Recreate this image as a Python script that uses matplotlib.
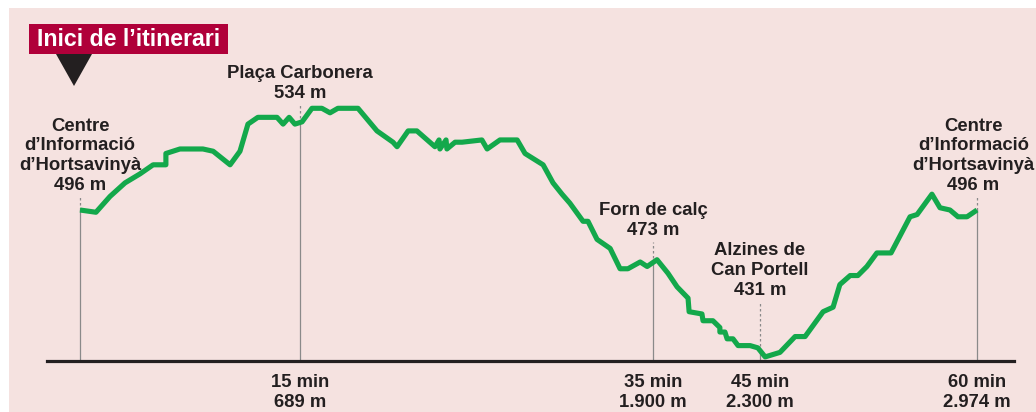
import numpy as np
import matplotlib
matplotlib.use("Agg")
import matplotlib.pyplot as plt
from matplotlib.patches import Rectangle, Polygon

# ---------------- data ----------------
profile_dist_m = [0, 50, 94, 141, 188, 229, 269, 269, 313, 385, 417, 470, 501, 526, 557,
                  617, 636, 655, 673, 696, 730, 764, 792, 819, 888, 953, 1008, 1022, 1060,
                  1090, 1152, 1166, 1169, 1190, 1193, 1221, 1245, 1313, 1331, 1375, 1434,
                  1461, 1523, 1557, 1588, 1615, 1660, 1677, 1708, 1753, 1787, 1814, 1856,
                  1880, 1915, 1956, 1990, 2031, 2035, 2083, 2087, 2124, 2150, 2150, 2169,
                  2177, 2199, 2218, 2263, 2292, 2316, 2362, 2409, 2440, 2496, 2527, 2548,
                  2580, 2604, 2632, 2663, 2707, 2766, 2788, 2834, 2859, 2890, 2915, 2943,
                  2974]
profile_elev_m = [496, 495, 502, 508, 512, 516, 516, 521, 523, 523, 522, 516, 522, 534, 537,
                  537, 534, 537, 534, 535, 541, 541, 539, 541, 541, 531, 526, 524, 531,
                  531, 524, 527, 523, 527, 523, 526, 526, 527, 523, 527, 527,
                  521, 516, 508, 503, 499, 491, 491, 483, 479, 470, 470, 473,
                  471, 474, 468, 462, 457, 451, 450, 447, 447, 444, 442, 442,
                  439, 439, 436, 436, 435, 431, 433, 440, 440, 451, 453, 463,
                  467, 467, 471, 477, 477, 493, 494, 503, 497, 496, 493, 493,
                  496]

marker_dist_m = [0, 689, 1900, 2300, 2974]
marker_elev_m = [496, 534, 473, 431, 496]
marker_names = ["Centre\nd\u2019Informació\nd\u2019Hortsavinyà", "Plaça Carbonera",
                "Forn de calç", "Alzines de\nCan Portell",
                "Centre\nd\u2019Informació\nd\u2019Hortsavinyà"]
marker_times = ["", "15 min", "35 min", "45 min", "60 min"]
marker_dist_labels = ["", "689 m", "1.900 m", "2.300 m", "2.974 m"]
title_text = "Inici de l\u2019itinerari"

# ---------------- layout / style ----------------
W, H = 1036, 412
axis_px = [80, 300, 653, 760, 977]      # horizontal position of each marker (px)
px_per_m = 2.26                          # vertical scale
ref_px, ref_elev = 210, 496
guide_top_m = [501.8, 542.5, 481.8, 455.3, 501.8]
label_dx_pt = [0, 0, 0, 0, -2.5]
baseline_m = 429.2

BG = "#f5e2e0"
GREEN = "#13a84b"
DARK = "#231f20"
GREY = "#8a8a8a"
RED = "#b0003a"
FONT = "Liberation Sans"
FS = 13.3
LS = 1.22

D = np.array(marker_dist_m, float)
P = np.array(axis_px, float)
s0 = (P[1] - P[0]) / (D[1] - D[0])
s1 = (P[-1] - P[-2]) / (D[-1] - D[-2])


def fwd(d):
    d = np.asarray(d, float)
    out = np.interp(d, D, P)
    out = np.where(d < D[0], P[0] + (d - D[0]) * s0, out)
    out = np.where(d > D[-1], P[-1] + (d - D[-1]) * s1, out)
    return out


def inv(p):
    p = np.asarray(p, float)
    out = np.interp(p, P, D)
    out = np.where(p < P[0], D[0] + (p - P[0]) / s0, out)
    out = np.where(p > P[-1], D[-1] + (p - P[-1]) / s1, out)
    return out


fig = plt.figure(figsize=(W / 100, H / 100), dpi=100)
fig.patch.set_facecolor("white")
fig.add_artist(Rectangle((9 / W, 0), 1 - 9 / W, 1 - 8 / H, transform=fig.transFigure,
                         fc=BG, ec="none", zorder=0))

ax = fig.add_axes([0, 0, 1, 1])
ax.set_xscale("function", functions=(fwd, inv))
ax.set_xlim(float(inv(0)), float(inv(W)))
ax.set_ylim(ref_elev - (H - ref_px) / px_per_m, ref_elev + ref_px / px_per_m)
ax.axis("off")

# baseline
ax.axhline(baseline_m, xmin=47 / W, xmax=1014 / W, color=DARK, lw=2.3, zorder=3)

# guides and labels
for d, e, name, top, dx, t, dl in zip(marker_dist_m, marker_elev_m, marker_names,
                                      guide_top_m, label_dx_pt, marker_times,
                                      marker_dist_labels):
    prof = float(np.interp(d, profile_dist_m, profile_elev_m))
    ax.plot([d, d], [baseline_m, prof], color=GREY, lw=0.9, zorder=1)
    ax.plot([d, d], [prof, top], color=GREY, lw=0.9, ls=(0, (2, 2)), zorder=1)
    ax.annotate(f"{name}\n{e} m", xy=(d, top), xytext=(dx, 2.0), textcoords="offset points",
                ha="center", va="bottom", fontsize=FS, fontweight="bold",
                family=FONT, color=DARK, linespacing=LS, zorder=4)
    if t:
        ax.annotate(f"{t}\n{dl}", xy=(d, baseline_m), xytext=(0, -9.5),
                    textcoords="offset points", ha="center", va="top", fontsize=FS,
                    fontweight="bold", family=FONT, color=DARK, linespacing=LS,
                    zorder=4)

# profile
ax.plot(profile_dist_m, profile_elev_m, color=GREEN, lw=3.7, solid_joinstyle="round",
        solid_capstyle="butt", zorder=2)

# title box and arrow
fig.add_artist(Rectangle((29 / W, 1 - 54 / H), 199 / W, 30 / H, transform=fig.transFigure,
                         fc=RED, ec="none", zorder=5))
fig.text(128.5 / W, 1 - 39.5 / H, title_text, ha="center", va="center", fontsize=16.7,
         fontweight="bold", family=FONT, color="white", zorder=6)
fig.add_artist(Polygon([(56 / W, 1 - 54 / H), (92 / W, 1 - 54 / H), (74 / W, 1 - 86 / H)],
                       closed=True, transform=fig.transFigure, fc=DARK, ec="none", zorder=5))

fig.savefig("out.png", dpi=100, facecolor=fig.get_facecolor())
